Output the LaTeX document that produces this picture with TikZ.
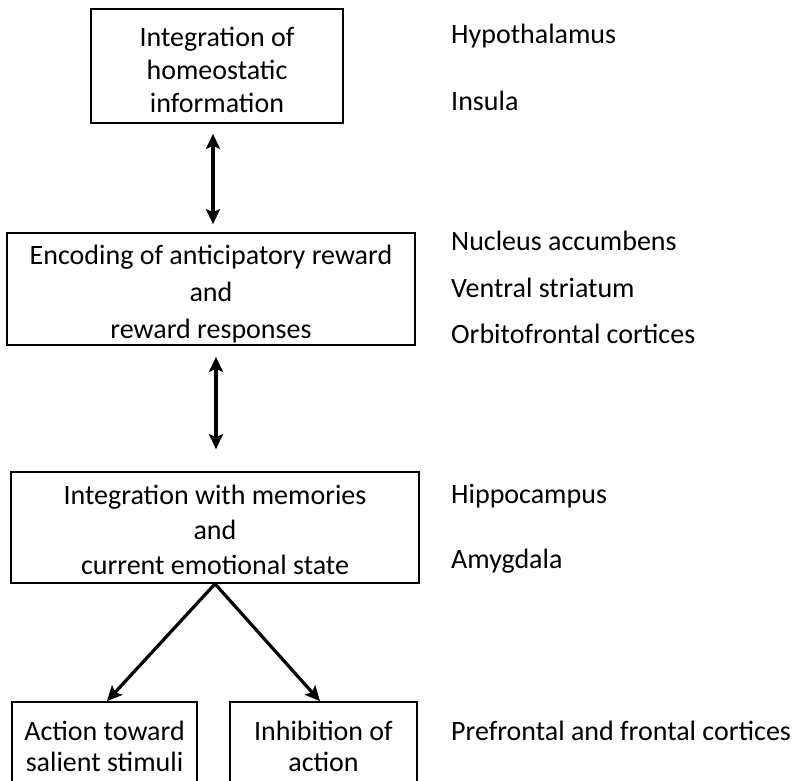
\documentclass[tikz,border=0pt]{standalone}
\usepackage{fontspec}
\setmainfont{Carlito}
\usetikzlibrary{arrows.meta}
\newcommand{\dropline}[1]{\rule{0pt}{#1}}
\begin{document}
\begin{tikzpicture}[x=1pt,y=-1pt,
  every node/.style={font=\fontsize{28}{33}\selectfont, inner sep=0pt},
  box/.style={draw, line width=1.7pt, align=center},
  lbl/.style={anchor=base west},
  tip/.tip={Stealth[length=15pt,width=14pt,inset=3pt]},
  dbl/.style={tip-tip, line width=3.4pt},
  one/.style={-tip, line width=3.2pt}]
\clip (0,0) rectangle (793,780);
\node[box, minimum width=252pt, minimum height=114pt] (b1) at (217,66) {\dropline{28pt}Integration of\\homeostatic\\information};
\node[box, minimum width=408pt, minimum height=112pt, font=\fontsize{28}{37}\selectfont] (b2) at (211,289) {\dropline{29pt}Encoding of anticipatory reward\\and\\reward responses};
\node[box, minimum width=408pt, minimum height=111pt, font=\fontsize{28}{35}\selectfont] (b3) at (215,527.5) {\dropline{24pt}Integration with memories\\and\\current emotional state};
\node[box, minimum width=185pt, minimum height=88pt, font=\fontsize{28}{31}\selectfont] (b4) at (104.5,746) {Action toward\\salient stimuli};
\node[box, minimum width=187pt, minimum height=88pt, font=\fontsize{28}{31}\selectfont] (b5) at (323.5,746) {Inhibition of\\action};
\draw[dbl] ([xshift=-4pt,yshift=-10pt]b1.south) -- ([xshift=2pt,yshift=8pt]b2.north);
\draw[dbl] ([xshift=5pt,yshift=-11pt]b2.south) -- ([xshift=1pt,yshift=22pt]b3.north);
\draw[one] ([xshift=0pt]b3.south) -- ([xshift=2.5pt]b4.north);
\draw[one] ([xshift=0pt]b3.south) -- ([xshift=-3.5pt]b5.north);
\node[lbl] (l1) at (451,43) {Hypothalamus};
\node[lbl] (l2) at (451,110) {Insula};
\node[lbl] (l3) at (451,250) {Nucleus accumbens};
\node[lbl] (l4) at (451,297) {Ventral striatum};
\node[lbl] (l5) at (451,343) {Orbitofrontal cortices};
\node[lbl] (l6) at (451,503) {Hippocampus};
\node[lbl] (l7) at (451,568) {Amygdala};
\node[lbl] (l8) at (451,740) {Prefrontal and frontal cortices};
\end{tikzpicture}
\end{document}
